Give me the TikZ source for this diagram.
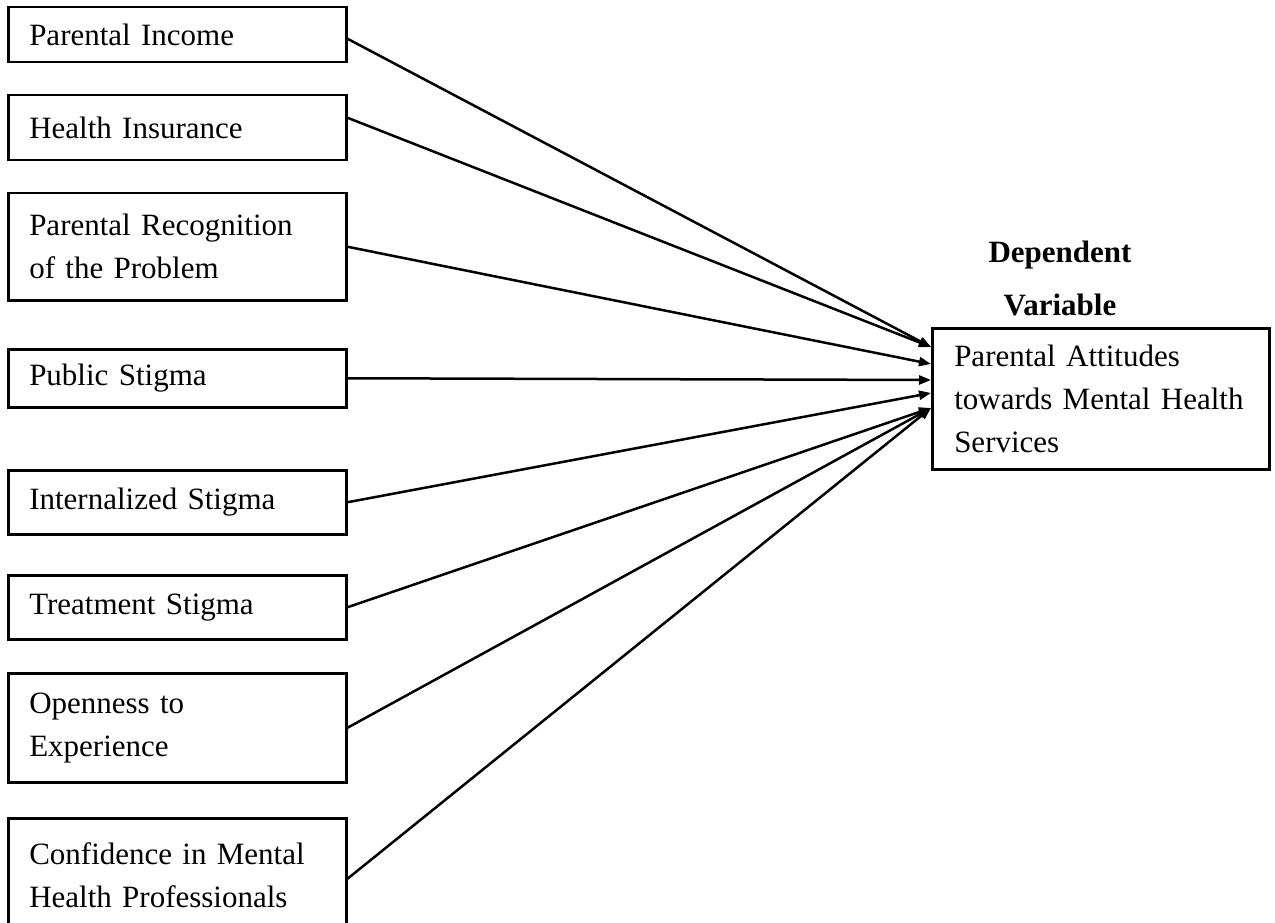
\documentclass[tikz,border=0pt]{standalone}
\usepackage{fontspec}
\setmainfont{Liberation Serif}
\usetikzlibrary{arrows.meta}

\tikzset{
  factor/.style={draw, line width=2.5pt, anchor=north west, minimum width=338pt,
    text width=296pt, inner xsep=21pt, align=left,
    font=\fontsize{31}{43}\selectfont},
  label/.style={anchor=base, font=\fontsize{31}{43}\selectfont\bfseries},
  link/.style={line width=2.5pt, -{Triangle[length=12pt,width=9pt]}}
}

\begin{document}
\begin{tikzpicture}[x=1pt, y=-1pt]
                    \useasboundingbox (0,0) rectangle (1275,923);
                    \node [factor, minimum height=55pt] (income) at (7,6) {Parental Income};
                    \node [factor, minimum height=65pt] (insurance) at (7,94) {Health Insurance};
                    \node [factor, minimum height=107pt] (recognition) at (7,192) {Parental Recognition\\of the Problem};
                    \node [factor, minimum height=58pt] (public) at (7,348) {Public Stigma};
                    \node [factor, minimum height=64pt] (internal) at (7,469) {Internalized Stigma};
                    \node [factor, minimum height=64pt] (treatment) at (7,574) {Treatment Stigma};
                    \node [factor, minimum height=109pt] (openness) at (7,672) {Openness to\\Experience};
                    \node [factor, minimum height=113pt] (confidence) at (7,817) {Confidence in Mental\\Health Professionals};
                    \node [factor, minimum width=337pt, text width=293pt, inner xsep=22pt, minimum height=141pt] (attitudes) at (931,327) {Parental Attitudes\\towards Mental Health\\Services};
                    \node [label] (dependent) at (1060,262) {Dependent};
                    \node [label] (variable) at (1060,315) {Variable};
                    \coordinate (in1) at ([yshift=-20pt]attitudes.north west);
                    \coordinate (in2) at ([yshift=-37pt]attitudes.north west);
                    \coordinate (in3) at ([yshift=-53pt]attitudes.north west);
                    \coordinate (in4) at ([yshift=-66pt]attitudes.north west);
                    \coordinate (in5) at ([yshift=-81pt]attitudes.north west);
                    \draw [link] ([yshift=-4pt]income.east) -- (in1);
                    \draw [link] ([yshift=10pt]insurance.east) -- (in1);
                    \draw [link] (recognition.east) -- (in2);
                    \draw [link] (public.east) -- (in3);
                    \draw [link] (internal.east) -- (in4);
                    \draw [link] (treatment.east) -- (in5);
                    \draw [link] (openness.east) -- (in5);
                    \draw [link] ([yshift=-4pt]confidence.east) -- (in5);
                \end{tikzpicture}
\end{document}
